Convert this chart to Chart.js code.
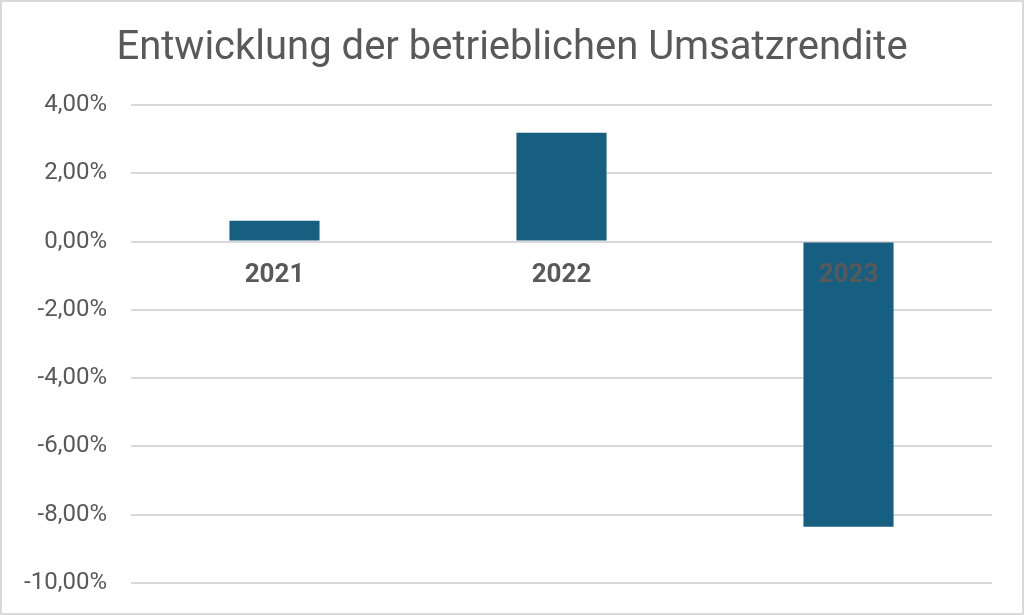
<!DOCTYPE html>
<html>
<head>
<meta charset="utf-8">
<script src="https://cdn.jsdelivr.net/npm/chart.js@4"></script>
<style>
  html, body { margin: 0; padding: 0; background: #fff; }
  #wrap { width: 1024px; height: 615px; position: relative; }
</style>
</head>
<body>
<div id="wrap"><canvas id="c" width="1024" height="615"></canvas></div>
<script>
const categories = ['2021', '2022', '2023'];
const values = [0.61, 3.19, -8.35];
const chartTitle = 'Entwicklung der betrieblichen Umsatzrendite';

const textColor = '#595959';
const gridColor = '#d9d9d9';
const barColor = '#175f80';

const bgBorder = {
  id: 'bgBorder',
  beforeDraw(chart) {
    const ctx = chart.ctx;
    ctx.save();
    ctx.fillStyle = '#ffffff';
    ctx.fillRect(0, 0, chart.width, chart.height);
    ctx.restore();
  },
  afterDraw(chart) {
    const ctx = chart.ctx;
    ctx.save();
    ctx.strokeStyle = gridColor;
    ctx.lineWidth = 2;
    ctx.strokeRect(1, 1, chart.width - 2, chart.height - 2);
    ctx.restore();
  }
};

new Chart(document.getElementById('c'), {
  type: 'bar',
  data: {
    labels: categories,
    datasets: [{
      data: values,
      backgroundColor: barColor,
      borderWidth: 0,
      categoryPercentage: 1,
      barPercentage: 0.314
    }]
  },
  options: {
    responsive: false,
    animation: false,
    layout: { padding: { top: 0, left: 0, right: 0, bottom: 32 } },
    plugins: {
      legend: { display: false },
      tooltip: { enabled: false },
      title: {
        display: true,
        text: chartTitle,
        color: textColor,
        font: { family: 'Roboto', size: 40, weight: 'normal' },
        padding: { top: 25, bottom: 32 }
      }
    },
    scales: {
      y: {
        min: -10,
        max: 4,
        ticks: {
          stepSize: 2,
          padding: 24,
          color: textColor,
          font: { family: 'Roboto', size: 24 },
          callback: (v) => v.toFixed(2).replace('.', ',') + '%'
        },
        grid: { color: gridColor, lineWidth: 2, drawTicks: false },
        border: { display: false },
        afterFit: (s) => { s.width = 131; s.paddingBottom = 0; }
      },
      yR: {
        type: 'linear',
        position: 'right',
        min: 0,
        max: 1,
        grid: { display: false, drawTicks: false },
        border: { display: false },
        ticks: { display: false },
        afterFit: (s) => { s.width = 32; s.paddingBottom = 0; s.paddingTop = 0; }
      },
      x: {
        position: { y: 0 },
        grid: { display: false, drawTicks: false },
        border: { display: false },
        afterFit: (s) => { s.height = 0; s.paddingBottom = 0; s.paddingTop = 0; },
        ticks: {
          z: 1,
          padding: 18,
          color: textColor,
          font: { family: 'Roboto', size: 26, weight: 'bold' }
        }
      }
    }
  },
  plugins: [bgBorder]
});
</script>
</body>
</html>
